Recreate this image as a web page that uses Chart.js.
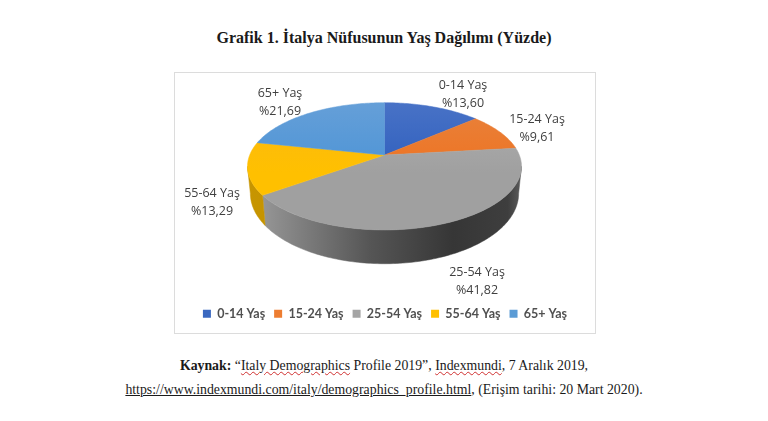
<!DOCTYPE html>
<html lang="tr">
<head>
<meta charset="utf-8">
<title>Grafik 1</title>
<script src="https://cdn.jsdelivr.net/npm/chart.js@4"></script>
<style>
  html, body { margin: 0; background: #fff; }
  body { position: relative; width: 768px; height: 421px; overflow: hidden; font-family: "Liberation Serif", serif; color: #1a1a1a; }
  .title { position: absolute; left: 0; width: 768px; top: 29px; text-align: center; font-size: 16px; font-weight: bold; }
  .frame { position: absolute; left: 174px; top: 72px; width: 420px; height: 260px; border: 1px solid #dcdcdc; }
  .source { position: absolute; left: 0; width: 768px; text-align: center; font-size: 13.8px; white-space: nowrap; }
  .spell { text-decoration: underline wavy #d03030 1px; }
  .link { text-decoration: underline; }
</style>
</head>
<body>
<div class="title">Grafik 1. İtalya Nüfusunun Yaş Dağılımı (Yüzde)</div>
<div class="frame"><canvas id="pie" width="420" height="260"></canvas></div>
<div class="source" style="top:358px"><b>Kaynak:</b> “<span class="spell">Italy Demographics</span> Profile 2019”, <span class="spell">Indexmundi</span>, 7 Aralık 2019,</div>
<div class="source" style="top:382px"><span class="link">https://www.indexmundi.com/italy/demographics_profile.html</span>, (Erişim tarihi: 20 Mart 2020).</div>
<script>
const categories = ['0-14 Yaş', '15-24 Yaş', '25-54 Yaş', '55-64 Yaş', '65+ Yaş'];
const shares = [13.60, 9.61, 41.82, 13.29, 21.69];
const shareLabels = ['%13,60', '%9,61', '%41,82', '%13,29', '%21,69'];
const colors = ['#3a68c0', '#ed7d31', '#a5a5a5', '#ffc000', '#5b9bd5'];
const lightColors = ['#4872c6', '#e8823c', '#aeaeae', '#fbb814', '#659fd8'];
const darkColors = ['#2f5fbe', '#ee7322', '#a0a0a0', '#ffc000', '#4d94d6'];

// label centres, canvas px
const labelX = [288, 362, 302, 37, 105];
const labelY = [12, 46, 199, 120, 20];

// perspective of the tilted disc (centre of pie, canvas px)
const CX = 209.5, CY = 82;
const TILT = 0.178;
const TOP_A = 134.8, TOP_B = 61.6;
const LOW_A = 132, LOW_B = 68, LOW_SHIFT = 26;

function rim(angle, a, b, shift) {
  const u = Math.cos(angle), v = Math.sin(angle);
  const d = 1 - TILT * v;
  return { x: CX + a * u / d, y: CY + shift + b * v / d };
}

function sweep(ctx, from, to, a, b, shift) {
  const n = Math.max(2, Math.ceil(Math.abs(to - from) / 0.02));
  for (let i = 0; i <= n; i++) {
    const p = rim(from + (to - from) * i / n, a, b, shift);
    ctx.lineTo(p.x, p.y);
  }
}

function drawWall(ctx, el, i) {
  const edge = Math.asin(TILT);
  const from = Math.max(el.startAngle, edge);
  const to = Math.min(el.endAngle, Math.PI - edge);
  if (to <= from) return;
  const g = ctx.createLinearGradient(CX - 137, 0, CX + 137, 0);
  if (i === 2) {
    g.addColorStop(0, '#a0a0a0');
    g.addColorStop(0.1, '#8e8e8e');
    g.addColorStop(0.45, '#555555');
    g.addColorStop(0.75, '#363636');
    g.addColorStop(0.95, '#3e3e3e');
    g.addColorStop(1, '#5c5c5c');
  } else {
    g.addColorStop(0, '#c79500');
    g.addColorStop(1, '#b08400');
  }
  ctx.fillStyle = g;
  ctx.strokeStyle = g;
  ctx.lineWidth = 0.5;
  ctx.beginPath();
  sweep(ctx, from, to, TOP_A, TOP_B, 0);
  sweep(ctx, to, from, LOW_A, LOW_B, LOW_SHIFT);
  ctx.closePath();
  ctx.fill();
  ctx.stroke();
}

function drawFace(ctx, el, i) {
  const g = ctx.createLinearGradient(0, CY - 52, 0, CY + 75);
  g.addColorStop(0, lightColors[i]);
  g.addColorStop(0.55, darkColors[i]);
  g.addColorStop(1, darkColors[i]);
  ctx.fillStyle = g;
  ctx.strokeStyle = g;
  ctx.lineWidth = 0.5;
  ctx.beginPath();
  ctx.moveTo(CX, CY);
  sweep(ctx, el.startAngle, el.endAngle, TOP_A, TOP_B, 0);
  ctx.closePath();
  ctx.fill();
  ctx.stroke();
}

// the library works out the slice angles, this draws them tilted
const tiltedPie = {
  id: 'tiltedPie',
  beforeDatasetDraw(chart) {
    const ctx = chart.ctx;
    const arcs = chart.getDatasetMeta(0).data;
    ctx.save();
    arcs.forEach((el, i) => drawWall(ctx, el, i));
    arcs.forEach((el, i) => drawFace(ctx, el, i));
    ctx.font = '12.5px "Open Sans", Lato, sans-serif';
    ctx.fillStyle = '#404040';
    ctx.textAlign = 'center';
    ctx.textBaseline = 'middle';
    categories.forEach((c, i) => {
      ctx.fillText(c, labelX[i], labelY[i]);
      ctx.fillText(shareLabels[i], labelX[i], labelY[i] + 18);
    });
    ctx.restore();
    return false;
  }
};

new Chart(document.getElementById('pie'), {
  type: 'pie',
  data: {
    labels: categories,
    datasets: [{ data: shares, backgroundColor: colors, borderWidth: 0 }]
  },
  options: {
    responsive: false,
    animation: false,
    layout: { padding: { bottom: 3 } },
    plugins: {
      tooltip: { enabled: false },
      legend: {
        position: 'bottom',
        labels: {
          boxWidth: 8,
          boxHeight: 8,
          padding: 9,
          color: '#505050',
          font: { family: 'Lato, "Open Sans", sans-serif', size: 12.5, weight: 'bold' }
        }
      }
    }
  },
  plugins: [tiltedPie]
});
</script>
</body>
</html>
